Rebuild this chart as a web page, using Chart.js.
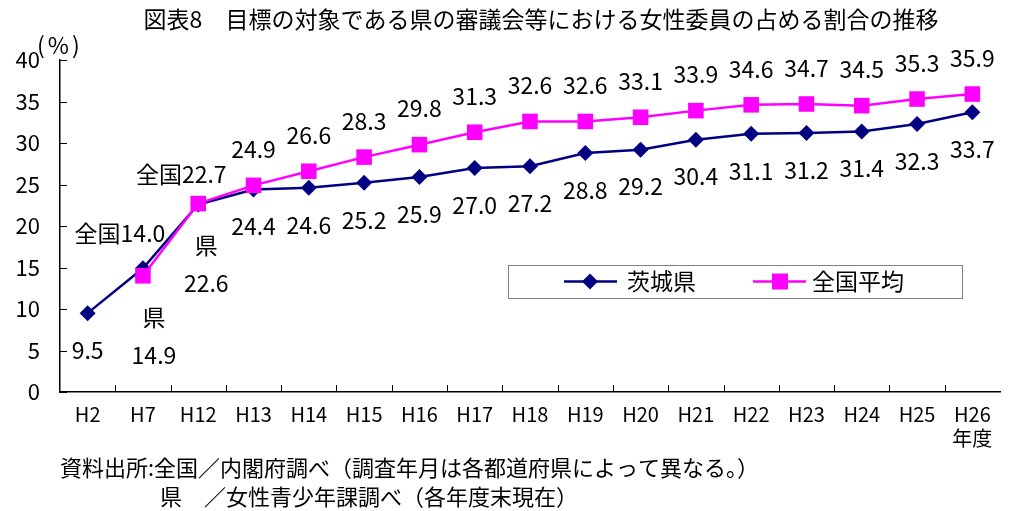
<!DOCTYPE html>
<html>
<head>
<meta charset="utf-8">
<title>女性委員の占める割合の推移</title>
<script src="https://cdn.jsdelivr.net/npm/chart.js@4"></script>
<style>
  html, body { margin: 0; padding: 0; background: #fff; }
</style>
</head>
<body>
<canvas id="ratioChart" width="1011" height="511"></canvas>
<script>
// fiscal years (H26 carries the 年度 unit on a second line)
const years = ['H2', 'H7', 'H12', 'H13', 'H14', 'H15', 'H16', 'H17', 'H18', 'H19',
  'H20', 'H21', 'H22', 'H23', 'H24', 'H25', ['H26', '年度']];

// 茨城県
const ibaraki = [9.5, 14.9, 22.6, 24.4, 24.6, 25.2, 25.9, 27.0, 27.2, 28.8,
  29.2, 30.4, 31.1, 31.2, 31.4, 32.3, 33.7];

// 全国平均 (no figure for H2)
const national = [null, 14.0, 22.7, 24.9, 26.6, 28.3, 29.8, 31.3, 32.6, 32.6,
  33.1, 33.9, 34.6, 34.7, 34.5, 35.3, 35.9];

const seriesNames = ['茨城県', '全国平均'];
const yMin = 0;
const yMax = 40;
const yStep = 5;

const titleText = '図表8　目標の対象である県の審議会等における女性委員の占める割合の推移';
const unitText = '(%)';
const sourceLines = [
  '資料出所:全国／内閣府調べ（調査年月は各都道府県によって異なる。）',
  '県　／女性青少年課調べ（各年度末現在）'
];

const FONT = '"Noto Sans CJK JP", "Noto Sans", sans-serif';
const NAVY = '#000080';
const MAGENTA = '#ff00ff';
const LABEL_SIZE = 23;

// labels near the start where the two lines cross get a prefix and their own spot
const ibarakiLabelTweaks = {
  1: { dx: 11, lines: ['県'], dy: 49 },
  2: { dx: 8, lines: ['県'], dy: 41 }
};
const nationalLabelTweaks = {
  1: { dx: -23, dy: -43, prefix: '全国' },
  2: { dx: -17, dy: -29, prefix: '全国' }
};

function text(ctx, str, x, y, size, align) {
  ctx.font = size + 'px ' + FONT;
  ctx.textAlign = align || 'center';
  ctx.textBaseline = 'middle';
  ctx.fillStyle = '#000';
  ctx.fillText(str, x, y);
}

const decorations = {
  id: 'decorations',
  afterDatasetsDraw(chart) {
    const ctx = chart.ctx;
    const x = chart.scales.x;
    const y = chart.scales.y;
    const area = chart.chartArea;
    ctx.save();

    // inside tick marks
    ctx.strokeStyle = '#000';
    ctx.lineWidth = 1;
    y.ticks.forEach(t => {
      const py = Math.round(y.getPixelForValue(t.value)) + 0.5;
      ctx.beginPath();
      ctx.moveTo(area.left, py);
      ctx.lineTo(area.left + 7, py);
      ctx.stroke();
    });
    for (let i = 1; i < years.length; i++) {
      const px = Math.round((x.getPixelForValue(i - 1) + x.getPixelForValue(i)) / 2) + 0.5;
      ctx.beginPath();
      ctx.moveTo(px, area.bottom);
      ctx.lineTo(px, area.bottom - 7);
      ctx.stroke();
    }

    // value labels: 茨城県 below the points, 全国平均 above
    ibaraki.forEach((v, i) => {
      const px = x.getPixelForValue(i);
      const py = y.getPixelForValue(v);
      const tw = ibarakiLabelTweaks[i];
      if (tw) {
        text(ctx, tw.lines[0], px + tw.dx, py + tw.dy, LABEL_SIZE);
        text(ctx, v.toFixed(1), px + tw.dx, py + tw.dy + 38, LABEL_SIZE);
      } else {
        text(ctx, v.toFixed(1), px, py + 37, LABEL_SIZE);
      }
    });
    national.forEach((v, i) => {
      if (v === null) return;
      const px = x.getPixelForValue(i);
      const py = y.getPixelForValue(v);
      const tw = nationalLabelTweaks[i];
      if (tw) {
        text(ctx, tw.prefix + v.toFixed(1), px + tw.dx, py + tw.dy, LABEL_SIZE);
      } else {
        text(ctx, v.toFixed(1), px, py - 36, LABEL_SIZE);
      }
    });

    // legend box
    const lx = 508, ly = 265, lw = 454, lh = 33;
    ctx.strokeStyle = '#808080';
    ctx.lineWidth = 1;
    ctx.strokeRect(lx + 0.5, ly + 0.5, lw, lh);
    const cy = ly + lh / 2;
    ctx.lineWidth = 2.5;
    ctx.strokeStyle = NAVY;
    ctx.beginPath();
    ctx.moveTo(564, cy);
    ctx.lineTo(617, cy);
    ctx.stroke();
    ctx.fillStyle = NAVY;
    ctx.beginPath();
    ctx.moveTo(590, cy - 8);
    ctx.lineTo(598, cy);
    ctx.lineTo(590, cy + 8);
    ctx.lineTo(582, cy);
    ctx.closePath();
    ctx.fill();
    text(ctx, seriesNames[0], 627, cy, 23, 'left');
    ctx.strokeStyle = MAGENTA;
    ctx.beginPath();
    ctx.moveTo(753, cy);
    ctx.lineTo(806, cy);
    ctx.stroke();
    ctx.fillStyle = MAGENTA;
    ctx.fillRect(772, cy - 8, 16, 16);
    text(ctx, seriesNames[1], 812, cy, 23, 'left');

    ctx.restore();
  },
  afterDraw(chart) {
    const ctx = chart.ctx;
    ctx.save();
    text(ctx, titleText, 541, 19, 23);
    ctx.letterSpacing = '3px';
    text(ctx, unitText, 37, 45, 23, 'left');
    ctx.letterSpacing = '0px';
    text(ctx, sourceLines[0], 60, 468, 22, 'left');
    text(ctx, sourceLines[1], 160, 497, 22, 'left');
    ctx.restore();
  }
};

new Chart(document.getElementById('ratioChart'), {
  type: 'line',
  data: {
    labels: years,
    datasets: [
      {
        label: seriesNames[1],
        data: national,
        order: 0,
        borderColor: MAGENTA,
        backgroundColor: MAGENTA,
        borderWidth: 2.5,
        pointStyle: 'rect',
        pointRadius: 11,
        pointBorderWidth: 0,
        spanGaps: false
      },
      {
        label: seriesNames[0],
        data: ibaraki,
        order: 1,
        borderColor: NAVY,
        backgroundColor: NAVY,
        borderWidth: 2.5,
        pointStyle: 'rectRot',
        pointRadius: 8,
        pointBorderWidth: 0
      }
    ]
  },
  options: {
    responsive: false,
    animation: false,
    layout: { padding: { top: 60, left: 0, right: 0, bottom: 0 } },
    plugins: {
      legend: { display: false },
      title: { display: false },
      tooltip: { enabled: false }
    },
    scales: {
      x: {
        offset: true,
        grid: { display: false, drawTicks: false },
        border: { color: '#000', width: 1.5 },
        ticks: {
          color: '#000',
          font: { family: FONT, size: 20 },
          padding: 10,
          maxRotation: 0,
          autoSkip: false
        },
        afterFit(scale) { scale.height = 119; }
      },
      y: {
        min: yMin,
        max: yMax,
        grid: { display: false, drawTicks: false },
        border: { color: '#000', width: 1.5 },
        ticks: {
          stepSize: yStep,
          color: '#000',
          font: { family: FONT, size: 22 },
          padding: 20
        },
        afterFit(scale) { scale.width = 60; }
      }
    }
  },
  plugins: [decorations]
});
</script>
</body>
</html>
